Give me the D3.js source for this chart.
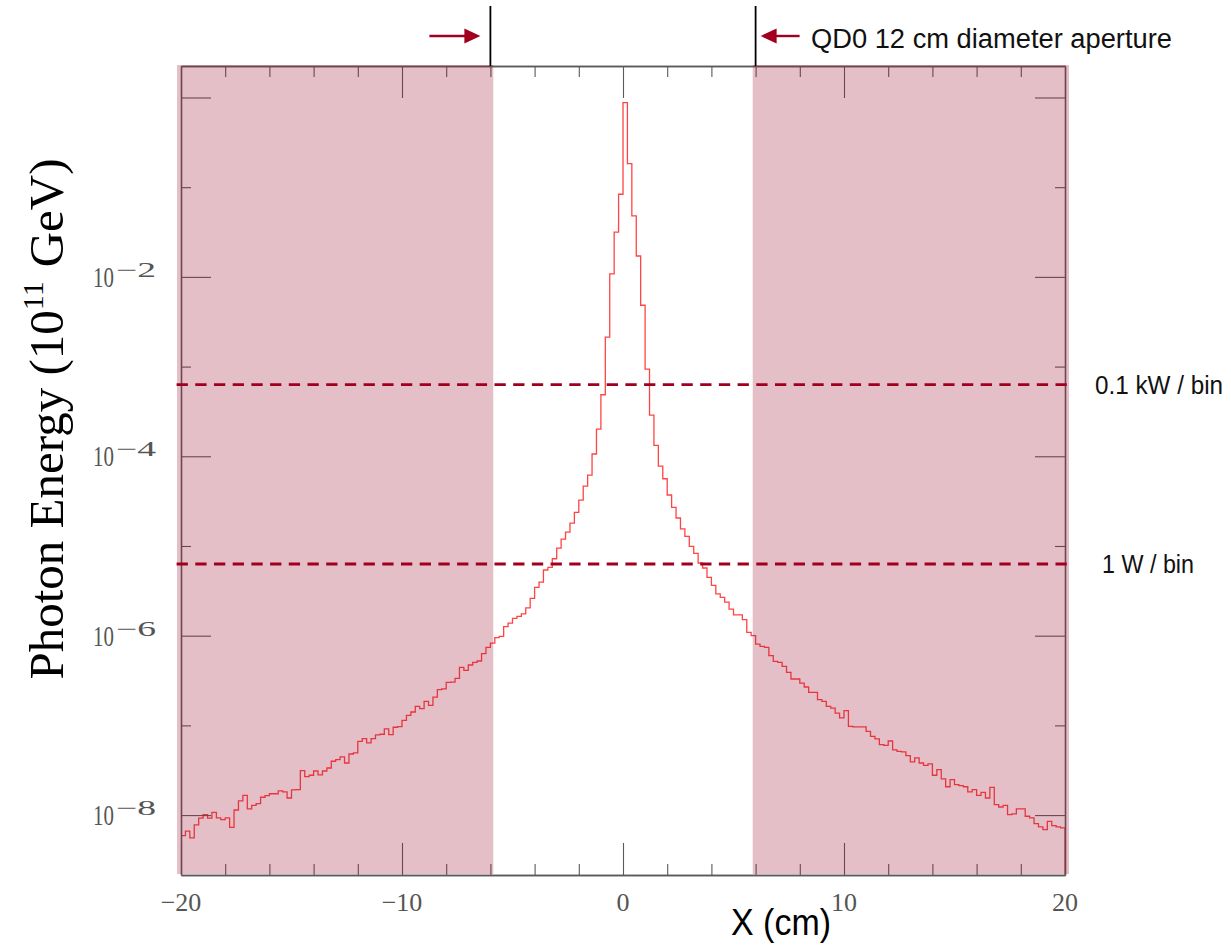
<!DOCTYPE html>
<html>
<head>
<meta charset="utf-8">
<script src="https://cdn.jsdelivr.net/npm/d3@7"></script>
<style>
  html, body { margin: 0; padding: 0; background: #fff; }
  svg { display: block; }
</style>
</head>
<body>
<script>
// Histogram binning: 200 bins of 0.2 cm from -20 cm to +20 cm
const binLow = -20;
const binWidth = 0.2;

// Photon energy per bin (units of 1e11 GeV)
const photonEnergy = [
  5.90e-9, 6.61e-9, 5.56e-9, 7.76e-9, 9.23e-9, 1.01e-8, 9.23e-9, 1.07e-8, 9.29e-9, 8.91e-9,
  9.29e-9, 7.31e-9, 1.14e-8, 1.44e-8, 1.66e-8, 1.17e-8, 1.28e-8, 1.34e-8, 1.58e-8, 1.65e-8,
  1.73e-8, 1.73e-8, 1.86e-8, 1.81e-8, 1.55e-8, 1.91e-8, 1.92e-8, 3.13e-8, 2.69e-8, 2.78e-8,
  3.10e-8, 2.80e-8, 3.10e-8, 3.35e-8, 3.98e-8, 4.15e-8, 4.45e-8, 3.81e-8, 4.80e-8, 4.93e-8,
  6.65e-8, 7.11e-8, 6.37e-8, 7.11e-8, 7.82e-8, 7.96e-8, 9.12e-8, 7.89e-8, 9.53e-8, 9.68e-8,
  1.14e-7, 1.29e-7, 1.41e-7, 1.63e-7, 1.54e-7, 1.85e-7, 1.67e-7, 2.07e-7, 2.50e-7, 2.55e-7,
  3.02e-7, 3.03e-7, 3.34e-7, 4.44e-7, 4.11e-7, 4.71e-7, 5.05e-7, 5.22e-7, 6.30e-7, 7.41e-7,
  8.28e-7, 9.51e-7, 9.82e-7, 1.26e-6, 1.38e-6, 1.56e-6, 1.64e-6, 1.75e-6, 2.04e-6, 2.61e-6,
  3.46e-6, 3.96e-6, 5.40e-6, 5.78e-6, 7.21e-6, 9.48e-6, 1.19e-5, 1.43e-5, 1.80e-5, 2.37e-5,
  3.25e-5, 4.66e-5, 6.18e-5, 1.06e-4, 2.01e-4, 4.85e-4, 2.13e-3, 1.08e-2, 3.15e-2, 8.34e-2,
  0.875,   0.183,   4.79e-2, 1.71e-2, 4.83e-3, 9.35e-4, 2.88e-4, 1.32e-4, 7.78e-5, 5.62e-5,
  3.70e-5, 2.69e-5, 2.05e-5, 1.55e-5, 1.28e-5, 9.91e-6, 8.28e-6, 6.46e-6, 5.68e-6, 4.47e-6,
  3.64e-6, 2.92e-6, 2.67e-6, 2.37e-6, 1.98e-6, 1.71e-6, 1.71e-6, 1.51e-6, 1.09e-6, 1.00e-6,
  8.07e-7, 7.60e-7, 7.41e-7, 5.98e-7, 5.18e-7, 5.05e-7, 4.55e-7, 3.90e-7, 3.29e-7, 3.29e-7,
  2.96e-7, 2.68e-7, 2.33e-7, 2.33e-7, 1.94e-7, 1.85e-7, 1.63e-7, 1.56e-7, 1.37e-7, 1.21e-7,
  1.46e-7, 9.77e-8, 9.60e-8, 9.60e-8, 9.60e-8, 8.59e-8, 7.55e-8, 7.06e-8, 6.10e-8, 6.00e-8,
  6.70e-8, 5.32e-8, 5.14e-8, 5.06e-8, 4.60e-8, 3.91e-8, 4.34e-8, 3.81e-8, 3.59e-8, 3.72e-8,
  2.78e-8, 3.21e-8, 2.53e-8, 2.07e-8, 2.48e-8, 2.19e-8, 2.13e-8, 2.07e-8, 1.81e-8, 1.92e-8,
  1.66e-8, 1.79e-8, 1.55e-8, 2.04e-8, 1.31e-8, 1.23e-8, 1.28e-8, 1.01e-8, 1.03e-8, 1.17e-8,
  1.17e-8, 9.70e-9, 9.29e-9, 8.04e-9, 7.38e-9, 6.89e-9, 8.53e-9, 7.64e-9, 7.38e-9, 7.19e-9
];

// Axis ranges and ticks
const xDomain = [-20, 20];
const yDomain = [2.148e-9, 2.244];
const xMinorTicks = [-18, -16, -14, -12, -8, -6, -4, -2, 2, 4, 6, 8, 12, 14, 16, 18];
const xMajorTicks = [-20, -10, 0, 10, 20];
const xTickLabels = ["\u221220", "\u221210", "0", "10", "20"];
const yMajorDecades = [0, -2, -4, -6, -8];
const yMinorDecades = [-1, -3, -5, -7];
const yLabelDecades = [-2, -4, -6, -8];

// Shielded regions outside the quadrupole aperture (cm)
const apertureRadius = 6;
const shadedBands = [[-20.18, -5.87], [5.87, 20.18]];

// Power-per-bin reference levels
const powerLevels = [6.3e-4, 6.3e-6];
const powerLabels = ["0.1 kW / bin", "1 W / bin"];

const W = 1231, H = 950;
const frame = { left: 181, right: 1065, top: 66, bottom: 875 };

const svg = d3.select("body").append("svg")
  .attr("width", W).attr("height", H)
  .attr("viewBox", `0 0 ${W} ${H}`);

svg.append("rect").attr("width", W).attr("height", H).attr("fill", "#fff");

const x = d3.scaleLinear().domain(xDomain).range([frame.left, frame.right]);
const y = d3.scaleLog().domain(yDomain).range([frame.bottom, frame.top]);

// ---- histogram outline ----
svg.append("clipPath").attr("id", "frameClip")
  .append("rect")
  .attr("x", frame.left).attr("y", frame.top)
  .attr("width", frame.right - frame.left).attr("height", frame.bottom - frame.top);

const pts = [[binLow, yDomain[0]]];
photonEnergy.forEach((v, i) => pts.push([binLow + i * binWidth, v]));
pts.push([binLow + photonEnergy.length * binWidth, photonEnergy[photonEnergy.length - 1]]);
pts.push([binLow + photonEnergy.length * binWidth, yDomain[0]]);

const stepLine = d3.line()
  .x(d => x(d[0]))
  .y(d => y(d[1]))
  .curve(d3.curveStepAfter);

svg.append("path")
  .attr("clip-path", "url(#frameClip)")
  .attr("d", stepLine(pts))
  .attr("fill", "none")
  .attr("stroke", "#ff4444")
  .attr("stroke-width", 1.3);

// ---- frame and ticks ----
const axisColor = "#5a5a5a";
function styleAxis(g) {
  g.select(".domain").attr("stroke", axisColor).attr("stroke-width", 1.3);
  g.selectAll(".tick line").attr("stroke", axisColor).attr("stroke-width", 1.1);
  g.selectAll(".tick text").remove();
}

svg.append("g").attr("transform", `translate(0,${frame.bottom})`)
  .call(d3.axisBottom(x).tickValues(xMinorTicks).tickSize(-11).tickSizeOuter(0)).call(styleAxis);
svg.append("g").attr("transform", `translate(0,${frame.bottom})`)
  .call(d3.axisBottom(x).tickValues(xMajorTicks).tickSize(-32).tickSizeOuter(0)).call(styleAxis);
svg.append("g").attr("transform", `translate(0,${frame.top})`)
  .call(d3.axisTop(x).tickValues(xMinorTicks).tickSize(-11).tickSizeOuter(0)).call(styleAxis);
svg.append("g").attr("transform", `translate(0,${frame.top})`)
  .call(d3.axisTop(x).tickValues(xMajorTicks).tickSize(-32).tickSizeOuter(0)).call(styleAxis);

const yMaj = yMajorDecades.map(d => Math.pow(10, d));
const yMin = yMinorDecades.map(d => Math.pow(10, d));
svg.append("g").attr("transform", `translate(${frame.left},0)`)
  .call(d3.axisLeft(y).tickValues(yMaj).tickSize(-30).tickSizeOuter(0)).call(styleAxis);
svg.append("g").attr("transform", `translate(${frame.left},0)`)
  .call(d3.axisLeft(y).tickValues(yMin).tickSize(-10).tickSizeOuter(0)).call(styleAxis);
svg.append("g").attr("transform", `translate(${frame.right},0)`)
  .call(d3.axisRight(y).tickValues(yMaj).tickSize(-30).tickSizeOuter(0)).call(styleAxis);
svg.append("g").attr("transform", `translate(${frame.right},0)`)
  .call(d3.axisRight(y).tickValues(yMin).tickSize(-10).tickSizeOuter(0)).call(styleAxis);

// ---- shaded regions (translucent overlay) ----
svg.append("g").selectAll("rect").data(shadedBands).join("rect")
  .attr("x", d => x(d[0]))
  .attr("width", d => x(d[1]) - x(d[0]))
  .attr("y", frame.top - 1)
  .attr("height", frame.bottom - frame.top)
  .attr("fill", "#a01432")
  .attr("fill-opacity", 0.27);

// ---- power reference lines ----
const darkRed = "#a0001e";
svg.append("g").selectAll("line").data(powerLevels).join("line")
  .attr("x1", x(-20.2)).attr("x2", x(20.2))
  .attr("y1", d => y(d)).attr("y2", d => y(d))
  .attr("stroke", darkRed)
  .attr("stroke-width", 2.8)
  .attr("stroke-dasharray", "11.3 7.4");

const powerLabelX = [1095, 1102];
const powerLabelLen = [128, 92];
svg.append("g").selectAll("text").data(powerLevels).join("text")
  .attr("x", (d, i) => powerLabelX[i])
  .attr("y", d => y(d))
  .attr("dy", "0.36em")
  .attr("font-family", "Liberation Sans, Arial, sans-serif")
  .attr("font-size", 25)
  .attr("textLength", (d, i) => powerLabelLen[i])
  .attr("lengthAdjust", "spacingAndGlyphs")
  .attr("fill", "#111")
  .text((d, i) => powerLabels[i]);

// ---- aperture markers ----
const apertureEdges = [-apertureRadius, apertureRadius];
svg.append("g").selectAll("line").data(apertureEdges).join("line")
  .attr("x1", d => x(d)).attr("x2", d => x(d))
  .attr("y1", 6).attr("y2", frame.top)
  .attr("stroke", "#000").attr("stroke-width", 1.8);

// arrows pointing at the aperture edges from outside
const arrowY = 36;
const arrowSpec = [
  { edge: -apertureRadius, dir: 1, gap: 10, len: 51 },
  { edge: apertureRadius, dir: -1, gap: 5, len: 39 }
];
arrowSpec.forEach(a => {
  const tip = x(a.edge) - a.dir * a.gap;
  const g = svg.append("g");
  g.append("line")
    .attr("x1", tip - a.dir * a.len).attr("x2", tip - a.dir * 14)
    .attr("y1", arrowY).attr("y2", arrowY)
    .attr("stroke", darkRed).attr("stroke-width", 2.4);
  g.append("path")
    .attr("d", `M${tip},${arrowY} L${tip - a.dir * 16},${arrowY - 7.5} L${tip - a.dir * 16},${arrowY + 7.5} Z`)
    .attr("fill", darkRed);
});

svg.append("text")
  .attr("x", 811).attr("y", 48)
  .attr("font-family", "Liberation Sans, Arial, sans-serif")
  .attr("font-size", 27)
  .attr("textLength", 361)
  .attr("lengthAdjust", "spacingAndGlyphs")
  .attr("fill", "#111")
  .text("QD0 12 cm diameter aperture");

// ---- tick labels ----
const tickFont = "Liberation Serif, 'Times New Roman', serif";
const tickColor = "#555";
svg.append("g").selectAll("text").data(xMajorTicks).join("text")
  .attr("x", d => x(d))
  .attr("y", 911)
  .attr("text-anchor", "middle")
  .attr("font-family", tickFont)
  .attr("font-size", 26)
  .attr("fill", tickColor)
  .text((d, i) => xTickLabels[i]);

const yLab = svg.append("g").selectAll("g").data(yLabelDecades).join("g")
  .attr("transform", d => `translate(93,${y(Math.pow(10, d)) + 10})`);
yLab.append("text")
  .attr("font-family", tickFont)
  .attr("font-size", 29)
  .attr("fill", tickColor)
  .attr("transform", "scale(0.72,1)")
  .text("10");
yLab.append("text")
  .attr("x", 23).attr("y", -10)
  .attr("font-family", tickFont)
  .attr("font-size", 21)
  .attr("textLength", 40)
  .attr("lengthAdjust", "spacingAndGlyphs")
  .attr("fill", tickColor)
  .text(d => "\u2212" + Math.abs(d));

// ---- axis titles ----
svg.append("text")
  .attr("x", 731).attr("y", 935)
  .attr("font-family", "Liberation Sans, Arial, sans-serif")
  .attr("font-size", 36)
  .attr("textLength", 100)
  .attr("lengthAdjust", "spacingAndGlyphs")
  .attr("fill", "#000")
  .text("X (cm)");

const yTitle = svg.append("text")
  .attr("transform", "translate(63,419) rotate(-90)")
  .attr("text-anchor", "middle")
  .attr("font-family", "Liberation Serif, 'Times New Roman', serif")
  .attr("font-size", 49)
  .attr("fill", "#000");
yTitle.append("tspan").text("Photon Energy (10");
yTitle.append("tspan").attr("font-size", 30).attr("dy", -20).text("11");
yTitle.append("tspan").attr("dy", 20).attr("dx", 14).text("GeV)");
</script>
</body>
</html>
